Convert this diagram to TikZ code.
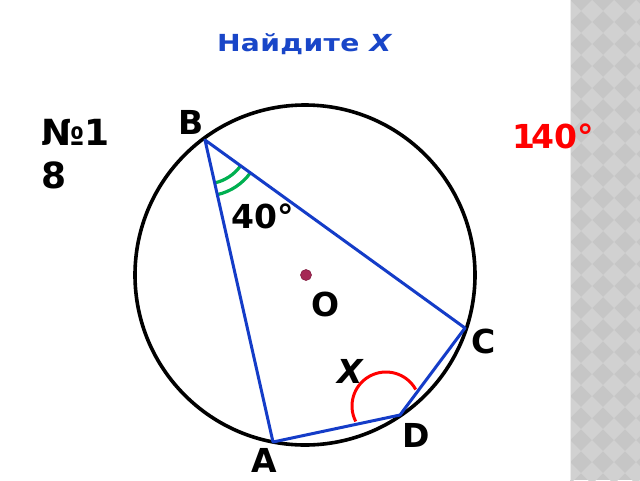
\documentclass[tikz,border=0pt]{standalone}
\usepackage{fontspec}
\setmainfont{DejaVu Sans}
\newfontfamily\titlefont[FakeStretch=1.2, LetterSpace=1.5]{DejaVu Sans}
\definecolor{titleblue}{RGB}{25,70,200}
\definecolor{lineblue}{RGB}{20,60,200}
\definecolor{anggreen}{RGB}{0,176,80}
\definecolor{dotred}{RGB}{165,40,85}
\definecolor{stripbase}{RGB}{198,198,198}
\definecolor{striplight}{RGB}{209,209,209}
\begin{document}
\begin{tikzpicture}[x=1pt,y=1pt,
  lbl/.style={font=\bfseries\fontsize{33}{40}\selectfont, inner sep=0pt},
  side/.style={lineblue, line width=3pt, line join=round},
  garc/.style={anggreen, line width=3.2pt},
  rarc/.style={red, line width=3pt}]
\useasboundingbox (0,0) rectangle (640,-480);
\fill[white] (0,0) rectangle (640,-480);
% decorative strip
\begin{scope}
\clip (570,0) rectangle (640,-480);
\fill[stripbase] (570,0) rectangle (640,-480);
\foreach \i in {0,...,4}{
  \foreach \j in {0,...,22}{
    \fill[striplight] (570+22*\i,-22*\j) -- ++(11,-11) -- ++(-11,-11) -- ++(-11,11) -- cycle;
  }
}
\end{scope}
\draw[white!85!gray, line width=1pt] (570.5,0) -- (570.5,-480);
% title
\node[font=\titlefont\bfseries\fontsize{23.5}{28}\selectfont, text=titleblue, anchor=base] (title) at (305,-51) {Найдите \textit{X}};
% circle
\coordinate (O) at (305,-275);
\draw[black, line width=3.6pt] (O) circle[radius=170];
\coordinate (B) at (205,-140);
\coordinate (C) at (465,-328);
\coordinate (D) at (400,-415);
\coordinate (A) at (273,-442);
% angle marks
\draw[garc] ([shift={(-77.3:44)}]B) arc[start angle=-77.3, end angle=-35.9, radius=44];
\draw[garc] ([shift={(-77.3:56)}]B) arc[start angle=-77.3, end angle=-35.9, radius=56];
\coordinate (Xc) at (386,-406);
\draw[rarc] ([shift={(29:34)}]Xc) arc[start angle=29, end angle=207, radius=34];
% quadrilateral
\draw[side] (B) -- (C) -- (D) -- (A) -- cycle;
% centre dot
\fill[dotred, draw=dotred!80!black, line width=0.6pt] (306,-275) circle[radius=5.5];
% labels
\node[lbl] (lB) at (191,-122) {B};
\node[lbl] (lC) at (484,-341) {C};
\node[lbl] (lD) at (416,-435) {D};
\node[lbl] (lA) at (264,-460) {A};
\node[lbl] (lO) at (326,-304) {O};
\node[lbl] (lX) at (351,-371) {\textit{X}};
\node[lbl, anchor=base west] (l40) at (231,-228) {40°};
\node[lbl, text=red, anchor=base west] (l140) at (512,-148) {1\kern-0.12em40°};
\node[lbl, font=\bfseries\fontsize{36}{40}\selectfont, anchor=base west] (n1) at (41,-145) {№1};
\node[lbl, font=\bfseries\fontsize{36}{40}\selectfont, anchor=base west] (n2) at (41,-188) {8};
\end{tikzpicture}
\end{document}
